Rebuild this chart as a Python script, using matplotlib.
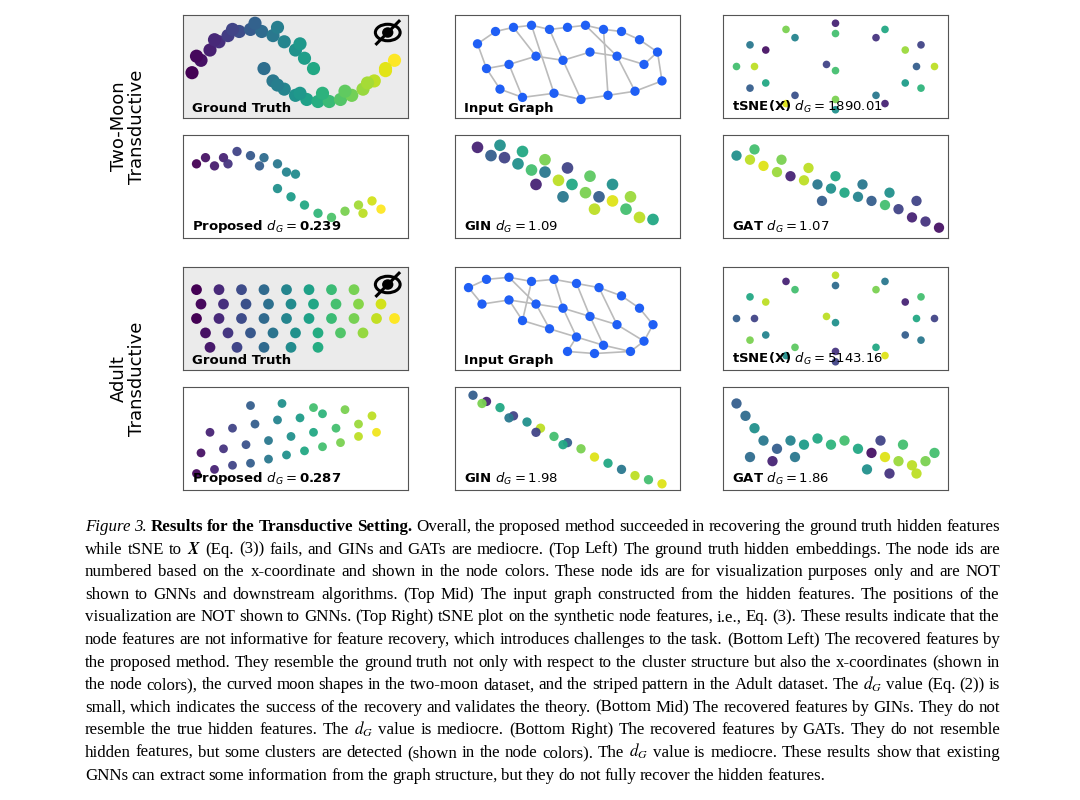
import matplotlib
matplotlib.use("Agg")
import matplotlib.pyplot as plt
from matplotlib.patches import Ellipse, Circle

plt.rcParams['mathtext.fontset'] = 'dejavusans'

# ---------------- data ----------------
gt_moon_x = [0.4,0.8,1.2,1.6,2.0,2.5,3.0,3.5,4.0,4.5,5.0,5.4,5.8,0.6,1.4,2.2,3.2,4.2,5.2,
             3.6,4.0,4.5,5.0,5.5,6.0,6.5,7.0,7.5,8.0,8.5,9.0,9.4,4.2,5.2,6.2,7.2,8.2,9.0]
gt_moon_y = [2.2,2.8,3.3,3.7,4.0,4.2,4.3,4.2,4.0,3.7,3.3,2.9,2.4,3.0,3.8,4.3,4.6,4.4,3.6,
             2.4,1.8,1.4,1.1,0.9,0.8,0.8,0.9,1.1,1.4,1.8,2.3,2.8,1.6,1.2,1.2,1.3,1.7,2.4]

graph_moon_x = [1.0,1.8,2.6,3.4,4.2,5.0,5.8,6.6,7.4,8.2,9.0,1.4,2.4,3.6,4.8,6.0,7.2,8.4,2.0,3.0,4.4,5.6,6.8,8.0,9.2]
graph_moon_y = [3.6,4.2,4.4,4.5,4.3,4.4,4.5,4.3,4.2,3.8,3.2,2.4,2.6,3.0,2.8,3.2,3.0,2.6,1.4,1.0,1.2,0.9,1.1,1.3,1.8]
graph_moon_edges = [(0,1),(1,2),(2,3),(3,4),(4,5),(5,6),(6,7),(7,8),(8,9),(9,10),(0,11),(11,12),(12,13),
                    (13,14),(14,15),(15,16),(16,17),(17,10),(11,18),(18,19),(19,20),(20,21),(21,22),
                    (22,23),(23,24),(24,10),(2,13),(4,14),(6,16),(12,19),(14,21),(16,23),(3,20),(7,22)]

ring_x = [9.4,8.8,7.2,5.0,2.8,1.2,0.6,1.2,2.8,5.0,7.2,8.8,
          8.6,8.1,6.8,5.0,3.2,1.9,1.4,1.9,3.2,5.0,6.8,8.1,5.0,4.6]
ring_y = [2.5,3.55,4.3,4.6,4.3,3.55,2.5,1.45,0.7,0.4,0.7,1.45,
          2.5,3.3,3.9,4.1,3.9,3.3,2.5,1.7,1.1,0.9,1.1,1.7,2.3,2.6]
ring_moon_c = [0.9,0.2,0.6,0.1,0.8,0.4,0.7,0.3,0.95,0.5,0.1,0.65,
               0.3,0.85,0.15,0.7,0.45,0.05,0.9,0.6,0.25,0.8,0.4,0.55,0.7,0.2]
ring_adult_c = [0.2,0.7,0.4,0.9,0.1,0.6,0.3,0.8,0.5,0.2,0.95,0.4,
                0.6,0.1,0.8,0.35,0.7,0.9,0.2,0.45,0.75,0.15,0.6,0.3,0.5,0.9]

prop_moon_x = [0.6,1.0,1.4,1.8,2.4,3.0,3.6,4.2,4.6,4.2,4.8,5.4,6.0,6.6,7.2,7.8,8.4,8.8,8.0,5.0,3.4,2.0]
prop_moon_y = [3.6,3.9,3.5,3.9,4.2,4.0,3.9,3.6,3.2,2.4,2.0,1.6,1.2,1.0,1.3,1.6,1.8,1.4,1.2,3.1,3.5,3.6]
prop_moon_c = [0.0,0.05,0.08,0.1,0.2,0.28,0.35,0.4,0.45,0.5,0.55,0.6,0.66,0.72,0.8,0.86,0.93,1.0,0.9,0.48,0.3,0.15]

gin_moon_x = [1.0,1.6,2.2,2.8,3.4,4.0,4.6,5.2,5.8,6.4,7.0,7.6,8.2,2.0,3.0,4.0,5.0,6.0,7.0,3.6,4.8,6.2,7.8,8.8]
gin_moon_y = [4.4,4.0,3.9,3.6,3.3,3.2,2.8,2.6,2.2,2.0,1.8,1.4,1.0,4.5,4.2,3.8,3.4,3.0,2.6,2.6,2.0,1.4,2.0,0.9]
gin_moon_c = [0.1,0.3,0.2,0.5,0.7,0.4,0.9,0.6,0.8,0.3,0.95,0.7,0.9,0.5,0.6,0.8,0.2,0.75,0.5,0.1,0.4,0.9,0.85,0.6]

gat_moon_x = [0.6,1.2,1.8,2.4,3.0,3.6,4.2,4.8,5.4,6.0,6.6,7.2,7.8,8.4,9.0,9.6,1.4,2.6,3.8,5.0,6.2,7.4,8.6,4.4]
gat_moon_y = [4.0,3.8,3.5,3.2,3.0,2.8,2.6,2.4,2.2,2.0,1.8,1.6,1.4,1.0,0.8,0.5,4.3,3.8,3.4,3.0,2.6,2.2,1.8,1.8]
gat_moon_c = [0.5,0.9,0.95,0.85,0.1,0.9,0.4,0.5,0.6,0.45,0.3,0.7,0.2,0.1,0.15,0.05,0.7,0.8,0.9,0.6,0.4,0.5,0.2,0.3]

gt_adult_x = [0.6,1.6,2.6,3.6,4.6,5.6,6.6,7.6,0.8,1.8,2.8,3.8,4.8,5.8,6.8,7.8,8.8,
              0.6,1.6,2.6,3.6,4.6,5.6,6.6,7.6,8.6,9.4,1.0,2.0,3.0,4.0,5.0,6.0,7.0,8.0,1.2,2.4,3.6,4.8,6.0]
gt_adult_y = [3.9,3.9,3.9,3.9,3.9,3.9,3.9,3.9,3.2,3.2,3.2,3.2,3.2,3.2,3.2,3.2,3.2,
              2.5,2.5,2.5,2.5,2.5,2.5,2.5,2.5,2.5,2.5,1.8,1.8,1.8,1.8,1.8,1.8,1.8,1.8,1.1,1.1,1.1,1.1,1.1]

graph_adult_x = [0.6,1.4,2.4,3.4,4.4,5.4,6.4,7.4,8.2,8.8,1.2,2.4,3.6,4.8,6.0,7.2,8.4,3.0,4.2,5.4,6.6,7.8,5.0,6.2]
graph_adult_y = [4.0,4.4,4.5,4.3,4.4,4.2,4.0,3.6,3.0,2.2,3.2,3.4,3.2,3.0,2.6,2.2,1.4,2.4,2.0,1.6,1.2,0.9,0.9,0.8]
graph_adult_edges = [(0,1),(1,2),(2,3),(3,4),(4,5),(5,6),(6,7),(7,8),(8,9),(0,10),(10,11),(11,12),(12,13),
                     (13,14),(14,15),(15,16),(9,16),(11,17),(17,18),(18,19),(19,20),(20,21),(21,16),
                     (2,12),(4,13),(6,15),(12,18),(13,19),(14,20),(19,22),(22,23),(23,21),(3,17),(5,14)]

prop_adult_x = [0.6,1.4,2.2,3.0,3.8,4.6,5.4,6.2,7.0,7.8,8.6,0.8,1.8,2.8,3.8,4.8,5.8,6.8,7.8,1.2,2.2,3.2,4.2,5.2,6.2,7.2,3.0,4.4,5.8,8.4]
prop_adult_y = [0.8,1.0,1.2,1.3,1.5,1.7,1.9,2.1,2.3,2.6,2.8,1.8,2.0,2.2,2.4,2.6,2.8,3.0,3.2,2.8,3.0,3.2,3.4,3.5,3.7,3.9,4.1,4.2,4.0,3.6]
prop_adult_c = [0.02,0.1,0.2,0.3,0.4,0.5,0.6,0.7,0.8,0.9,0.98,0.05,0.15,0.25,0.4,0.5,0.6,0.7,0.85,
                0.1,0.2,0.3,0.45,0.55,0.65,0.8,0.3,0.5,0.7,0.9]

gin_adult_x = [0.8,1.4,2.0,2.6,3.2,3.8,4.4,5.0,5.6,6.2,6.8,7.4,8.0,8.6,9.2,1.2,2.4,3.6,4.8]
gin_adult_y = [4.6,4.3,4.0,3.6,3.3,3.0,2.6,2.3,2.0,1.6,1.3,1.0,0.7,0.5,0.3,4.2,3.5,2.8,2.2]
gin_adult_c = [0.3,0.1,0.6,0.2,0.5,0.9,0.7,0.3,0.8,0.95,0.6,0.4,0.9,0.7,0.95,0.8,0.4,0.2,0.6]

gat_adult_x = [0.6,1.0,1.4,1.8,2.4,3.0,3.6,4.2,4.8,5.4,6.0,6.6,7.2,7.8,8.4,9.0,9.4,1.2,2.2,3.2,6.4,7.4,8.6,7.0,8.0]
gat_adult_y = [4.2,3.6,3.0,2.4,2.0,2.4,2.2,2.5,2.2,2.4,2.0,1.8,1.6,1.4,1.2,1.4,1.8,1.6,1.4,1.6,1.0,0.8,0.8,2.4,2.2]
gat_adult_c = [0.3,0.35,0.5,0.4,0.3,0.45,0.55,0.6,0.65,0.7,0.6,0.05,0.95,0.85,0.9,0.8,0.7,0.35,0.1,0.4,0.5,0.15,0.9,0.2,0.7]

labels = [["Ground Truth", "Input Graph", r"tSNE(X) $d_G = 1890.01$"],
          [r"Proposed $d_G = \mathbf{0.239}$", r"GIN $d_G = 1.09$", r"GAT $d_G = 1.07$"],
          ["Ground Truth", "Input Graph", r"tSNE(X) $d_G = 5143.16$"],
          [r"Proposed $d_G = \mathbf{0.287}$", r"GIN $d_G = 1.98$", r"GAT $d_G = 1.86$"]]
row_titles = ["Two-Moon\nTransductive", "Adult\nTransductive"]

caption = [
 [("Figure 3.", "i"), ("Results for the Transductive Setting.", "b"), ("Overall, the proposed method succeeded in recovering the ground truth hidden features", "n")],
 [("while tSNE to", "n"), (r"$\boldsymbol{X}$", "m"), ("(Eq. (3)) fails, and GINs and GATs are mediocre. (Top Left) The ground truth hidden embeddings. The node ids are", "n")],
 [("numbered based on the x-coordinate and shown in the node colors. These node ids are for visualization purposes only and are NOT", "n")],
 [("shown to GNNs and downstream algorithms. (Top Mid) The input graph constructed from the hidden features. The positions of the", "n")],
 [("visualization are NOT shown to GNNs. (Top Right) tSNE plot on the synthetic node features, i.e., Eq. (3). These results indicate that the", "n")],
 [("node features are not informative for feature recovery, which introduces challenges to the task. (Bottom Left) The recovered features by", "n")],
 [("the proposed method. They resemble the ground truth not only with respect to the cluster structure but also the x-coordinates (shown in", "n")],
 [("the node colors), the curved moon shapes in the two-moon dataset, and the striped pattern in the Adult dataset. The", "n"), (r"$d_G$", "m"), ("value (Eq. (2)) is", "n")],
 [("small, which indicates the success of the recovery and validates the theory. (Bottom Mid) The recovered features by GINs. They do not", "n")],
 [("resemble the true hidden features. The", "n"), (r"$d_G$", "m"), ("value is mediocre. (Bottom Right) The recovered features by GATs. They do not resemble", "n")],
 [("hidden features, but some clusters are detected (shown in the node colors). The", "n"), (r"$d_G$", "m"), ("value is mediocre. These results show that existing", "n")],
 [("GNNs can extract some information from the graph structure, but they do not fully recover the hidden features.", "n")],
]

# ---------------- figure ----------------
W, H = 1080, 800
fig = plt.figure(figsize=(W/100, H/100), dpi=100)
col_x = [183, 455, 723]
row_y = [15, 135, 267, 387]
pw, ph = 225, 103

def make_ax(r, c):
    ax = fig.add_axes([col_x[c]/W, 1-(row_y[r]+ph)/H, pw/W, ph/H])
    ax.set_xlim(0, 10); ax.set_ylim(0, 5)
    ax.set_xticks([]); ax.set_yticks([])
    for s in ax.spines.values():
        s.set_color('#555555'); s.set_linewidth(0.8)
    return ax

def eye(ax):
    ax.add_patch(Ellipse((9.1, 4.15), 1.1, 0.8, fill=False, lw=2.2, color='k'))
    ax.add_patch(Circle((9.1, 4.15), 0.22, color='k'))
    ax.plot([8.6, 9.6], [3.6, 4.7], color='k', lw=2.2)

def scat(ax, x, y, c, s=70):
    ax.scatter(x, y, c=c, cmap='viridis', vmin=0, vmax=1, s=s, edgecolors='none', alpha=0.95)

def graph(ax, x, y, edges):
    for i, j in edges:
        ax.plot([x[i], x[j]], [y[i], y[j]], color='#bbbbbb', lw=1.2, zorder=1)
    ax.scatter(x, y, color='#1f5ff5', s=45, edgecolors='none', zorder=2)

for r in range(4):
    for c in range(3):
        ax = make_ax(r, c)
        ax.text(0.04, 0.03, labels[r][c], transform=ax.transAxes, fontsize=9.5,
                fontweight='bold', va='bottom', ha='left', zorder=5)

axs = fig.axes
axs[0].set_facecolor('#ebebeb')
axs[0].scatter(gt_moon_x, gt_moon_y, c=gt_moon_x, cmap='viridis', s=90, edgecolors='none')
eye(axs[0])
graph(axs[1], graph_moon_x, graph_moon_y, graph_moon_edges)
scat(axs[2], ring_x, ring_y, ring_moon_c, 30)
scat(axs[3], prop_moon_x, prop_moon_y, prop_moon_c, 45)
scat(axs[4], gin_moon_x, gin_moon_y, gin_moon_c, 70)
scat(axs[5], gat_moon_x, gat_moon_y, gat_moon_c, 55)
axs[6].set_facecolor('#ebebeb')
axs[6].scatter(gt_adult_x, gt_adult_y, c=gt_adult_x, cmap='viridis', s=60, edgecolors='none')
eye(axs[6])
graph(axs[7], graph_adult_x, graph_adult_y, graph_adult_edges)
scat(axs[8], ring_x, ring_y, ring_adult_c, 30)
scat(axs[9], prop_adult_x, prop_adult_y, prop_adult_c, 40)
scat(axs[10], gin_adult_x, gin_adult_y, gin_adult_c, 45)
scat(axs[11], gat_adult_x, gat_adult_y, gat_adult_c, 55)

for i, t in enumerate(row_titles):
    yc = (row_y[2*i] + row_y[2*i+1] + ph) / 2
    fig.text(128/W, 1-yc/H, t, rotation=90, ha='center', va='center', fontsize=13,
             family='DejaVu Sans', linespacing=1.0)

# ---------------- caption with justification ----------------
fig.canvas.draw()
renderer = fig.canvas.get_renderer()
fs = 12.2
x0, x1 = 85, 1000
y_start, dy = 526, 22.6
style_kw = {'n': {}, 'b': {'fontweight': 'bold'}, 'i': {'fontstyle': 'italic'},
            'm': {'math_fontfamily': 'stix'}}
sp = 3.6
for li, runs in enumerate(caption):
    words = []
    for text, st in runs:
        if st == 'm':
            words.append((text, st))
        else:
            for w in text.split(' '):
                if w:
                    words.append((w, st))
    y = 1 - (y_start + li*dy)/H
    objs = []
    for w, st in words:
        t = fig.text(0, y, w, family='Liberation Serif', fontsize=fs, va='baseline', ha='left', **style_kw[st])
        objs.append(t)
    widths = [t.get_window_extent(renderer).width for t in objs]
    total = sum(widths)
    gap = (x1 - x0 - total)/(len(objs)-1) if li < len(caption)-1 else sp
    gap = max(gap, 1.5)
    xp = x0
    for t, wd in zip(objs, widths):
        t.set_position((xp/W, y - 5/H))
        xp += wd + gap

fig.savefig('out.png', dpi=100)
